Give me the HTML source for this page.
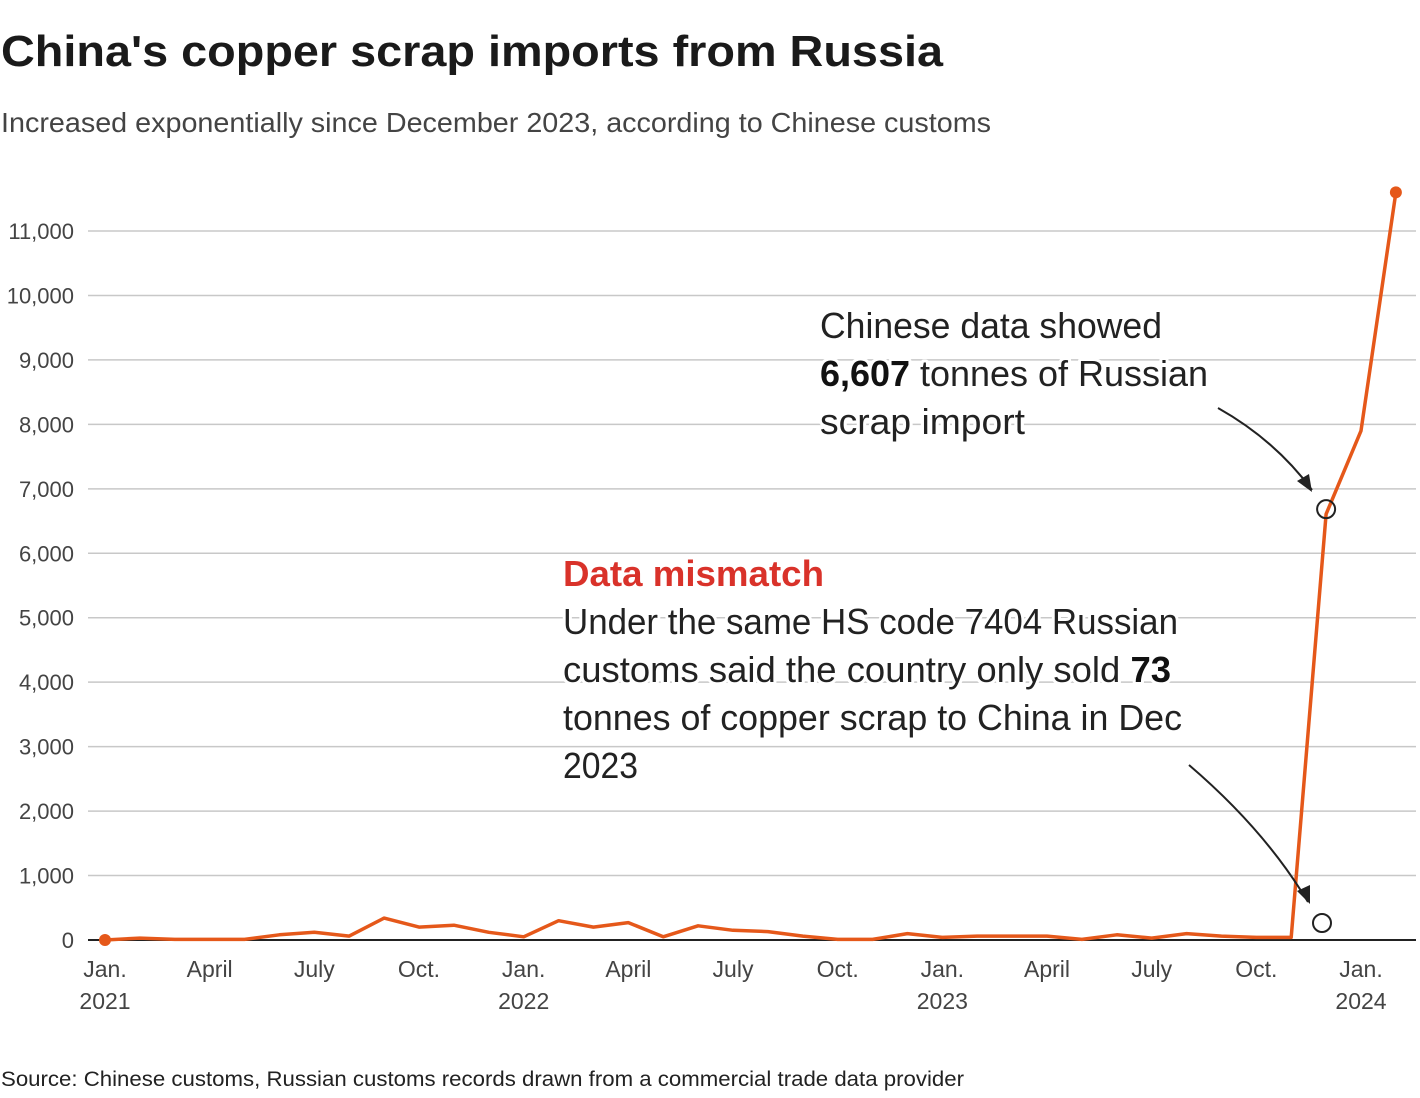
<!DOCTYPE html>
<html><head><meta charset="utf-8"><style>
body{margin:0;background:#fff;}
svg{display:block;font-family:"Liberation Sans",sans-serif;}
.halo{paint-order:stroke;stroke:#fff;stroke-width:6px;stroke-linejoin:round;}
</style></head><body>
<svg id="chart" width="1420" height="1098" viewBox="0 0 1420 1098">
<text x="1" y="66" font-size="44" font-weight="bold" fill="#1a1a1a" textLength="942" lengthAdjust="spacingAndGlyphs">China's copper scrap imports from Russia</text>
<text x="1" y="132" font-size="28" fill="#444" textLength="990" lengthAdjust="spacingAndGlyphs">Increased exponentially since  December 2023, according to Chinese customs</text>
<g id="grid"></g>
<g id="yticks"></g>
<g id="xticks"></g>
<g id="series"></g>
<g font-size="36" fill="#222">
<text class="halo" x="820" y="338" textLength="342" lengthAdjust="spacingAndGlyphs">Chinese data showed</text>
<text class="halo" x="820" y="386" textLength="388" lengthAdjust="spacingAndGlyphs"><tspan font-weight="bold" fill="#111">6,607</tspan> tonnes of Russian</text>
<text class="halo" x="820" y="434" textLength="205" lengthAdjust="spacingAndGlyphs">scrap import</text>
</g>
<g font-size="36" fill="#222">
<text class="halo" x="563" y="586" font-weight="bold" fill="#d9322a" textLength="261" lengthAdjust="spacingAndGlyphs">Data mismatch</text>
<text class="halo" x="563" y="634" textLength="615" lengthAdjust="spacingAndGlyphs">Under the same HS code 7404 Russian</text>
<text class="halo" x="563" y="682" textLength="608" lengthAdjust="spacingAndGlyphs">customs said the country only sold <tspan font-weight="bold" fill="#111">73</tspan></text>
<text class="halo" x="563" y="730" textLength="619" lengthAdjust="spacingAndGlyphs">tonnes of copper scrap to China in Dec</text>
<text class="halo" x="563" y="778" textLength="75" lengthAdjust="spacingAndGlyphs">2023</text>
</g>
<defs><marker id="ah" markerWidth="10" markerHeight="10" refX="8" refY="5" orient="auto" markerUnits="userSpaceOnUse"><path d="M0,0 L10,5 L0,10 Z" fill="#222" transform="scale(1.9) translate(-4,-2.5)"/></marker></defs>
<path d="M1218,408 Q1275,440 1312,490" fill="none" stroke="#222" stroke-width="2"/>
<path d="M1312,492 L1297,481 L1309,474 Z" fill="#222"/>
<path d="M1189,765 Q1265,830 1308,902" fill="none" stroke="#222" stroke-width="2"/>
<path d="M1310,904 L1297,891 L1310,885 Z" fill="#222"/>
<circle cx="1322" cy="923" r="9" fill="none" stroke="#222" stroke-width="2"/>
<text x="1" y="1086" font-size="21" fill="#222" textLength="963" lengthAdjust="spacingAndGlyphs">Source: Chinese customs, Russian customs records drawn from a commercial trade data provider</text>
</svg>
<script>
const months=["Jan21","Feb21","Mar21","Apr21","May21","Jun21","Jul21","Aug21","Sep21","Oct21","Nov21","Dec21","Jan22","Feb22","Mar22","Apr22","May22","Jun22","Jul22","Aug22","Sep22","Oct22","Nov22","Dec22","Jan23","Feb23","Mar23","Apr23","May23","Jun23","Jul23","Aug23","Sep23","Oct23","Nov23","Dec23","Jan24","Feb24"];
const values=[0,30,10,10,10,80,120,60,340,200,230,120,50,300,200,270,50,220,150,130,60,10,10,100,40,60,60,60,10,80,30,100,60,40,40,6607,7900,11600];
const yTicks=[0,1000,2000,3000,4000,5000,6000,7000,8000,9000,10000,11000];
const xTickIdx=[0,3,6,9,12,15,18,21,24,27,30,33,36];
const xTickLabels=["Jan.|2021","April","July","Oct.","Jan.|2022","April","July","Oct.","Jan.|2023","April","July","Oct.","Jan.|2024"];
const annotIdx=35;
const NS="http://www.w3.org/2000/svg";
const x=i=>105+i*(1361-105)/36;
const y=v=>940-v*(940-231)/11000;
function mk(t,a,p){const e=document.createElementNS(NS,t);for(const k in a)e.setAttribute(k,a[k]);p.appendChild(e);return e;}
const grid=document.getElementById('grid'),yt=document.getElementById('yticks'),xt=document.getElementById('xticks'),se=document.getElementById('series');
yTicks.forEach(v=>{
  const l=mk('line',{x1:88,x2:1416,y1:y(v),y2:y(v),stroke:v===0?'#222':'#c8c8c8','stroke-width':v===0?2:1.5},grid);
  
  
  const t=mk('text',{x:74,y:y(v)+8,'text-anchor':'end','font-size':22,fill:'#444'},yt);
  
  
  t.textContent=v.toLocaleString('en-US');
});
xTickIdx.forEach((i,k)=>{
  const parts=xTickLabels[k].split('|');
  parts.forEach((p,j)=>{
    const t=mk('text',{x:x(i),y:977+j*32,'text-anchor':'middle','font-size':23,fill:'#444'},xt);
    
    
    t.textContent=p;
  });
});
const pts=values.map((v,i)=>x(i).toFixed(1)+','+y(v).toFixed(1)).join(' ');
const pl=mk('polyline',{points:pts,fill:'none',stroke:'#e5581a','stroke-width':3.5,'stroke-linejoin':'round'},se);


const d0=mk('circle',{cx:x(0),cy:y(values[0]),r:6,fill:'#e5581a'},se);


const d1=mk('circle',{cx:x(values.length-1),cy:y(values[values.length-1]),r:6,fill:'#e5581a'},se);


const c=mk('circle',{cx:x(annotIdx),cy:y(values[annotIdx])-5,r:9,fill:'none',stroke:'#222','stroke-width':2},se);


</script>
</body></html>
